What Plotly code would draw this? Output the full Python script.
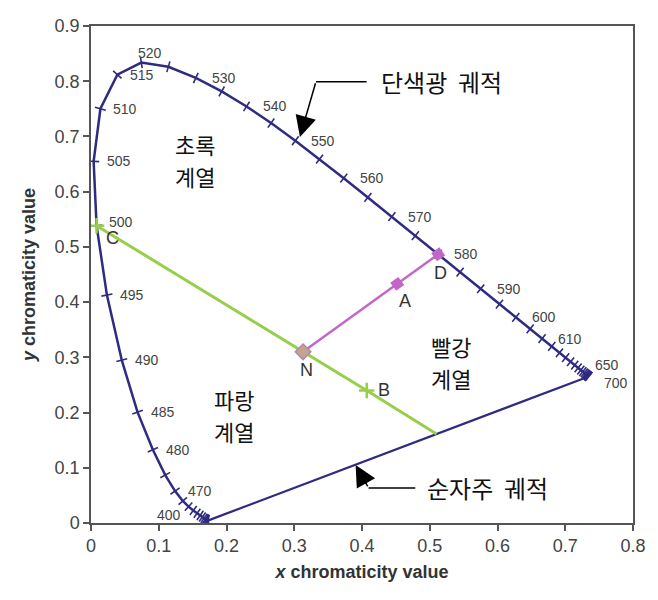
import math
import plotly.graph_objects as go

# CIE 1931 spectral locus (5 nm steps)
wavelengths = list(range(400, 705, 5))
locus_x = [0.1733, 0.1730, 0.1726, 0.1721, 0.1714, 0.1703, 0.1689, 0.1669, 0.1644, 0.1611,
           0.1566, 0.1510, 0.1440, 0.1355, 0.1241, 0.1096, 0.0913, 0.0687, 0.0454, 0.0235,
           0.0082, 0.0039, 0.0139, 0.0389, 0.0743, 0.1142, 0.1547, 0.1929, 0.2296, 0.2658,
           0.3016, 0.3373, 0.3731, 0.4087, 0.4441, 0.4788, 0.5125, 0.5448, 0.5752, 0.6029,
           0.6270, 0.6482, 0.6658, 0.6801, 0.6915, 0.7006, 0.7079, 0.7140, 0.7190, 0.7230,
           0.7260, 0.7283, 0.7300, 0.7311, 0.7320, 0.7327, 0.7334, 0.7340, 0.7344, 0.7346,
           0.7347]
locus_y = [0.0048, 0.0048, 0.0048, 0.0048, 0.0051, 0.0058, 0.0069, 0.0086, 0.0109, 0.0138,
           0.0177, 0.0227, 0.0297, 0.0399, 0.0578, 0.0868, 0.1327, 0.2007, 0.2950, 0.4127,
           0.5384, 0.6548, 0.7502, 0.8120, 0.8338, 0.8262, 0.8059, 0.7816, 0.7543, 0.7243,
           0.6923, 0.6589, 0.6245, 0.5896, 0.5547, 0.5202, 0.4866, 0.4544, 0.4242, 0.3965,
           0.3725, 0.3514, 0.3340, 0.3197, 0.3083, 0.2993, 0.2920, 0.2859, 0.2809, 0.2770,
           0.2740, 0.2717, 0.2700, 0.2689, 0.2680, 0.2673, 0.2666, 0.2660, 0.2656, 0.2654,
           0.2653]
labelled_wl = [400, 470, 480, 485, 490, 495, 500, 505, 510, 515, 520, 530, 540, 550,
               560, 570, 580, 590, 600, 610, 650, 700]

# Construction points
green_names = ["C", "N", "B", "E"]
green_x = [0.0082, 0.313, 0.407, 0.510]
green_y = [0.5384, 0.310, 0.240, 0.161]
magenta_names = ["N", "A", "D"]
magenta_x = [0.313, 0.452, 0.5125]
magenta_y = [0.310, 0.433, 0.4866]

region_line1 = ["초록", "파랑", "빨강"]
region_line2 = ["계열", "계열", "계열"]
region_x = [0.153, 0.211, 0.531]
region_y = [0.657, 0.196, 0.292]

# ---------------- layout constants ----------------
W, H = 658, 600
ML, MR, MT, MB = 91, 22, 26, 77
XR, YR = (0, 0.8), (0, 0.9)
px_x = (W - ML - MR) / (XR[1] - XR[0])
px_y = (H - MT - MB) / (YR[1] - YR[0])

NAVY = "#2e2b80"
GREEN = "#98cf4a"
MAGENTA = "#c266c8"
TXT = "#444444"
FONT = "Liberation Sans, Arial, sans-serif"
KFONT = "Noto Sans CJK KR"

# tick angles perpendicular to locus
angles = []
n = len(locus_x)
for i in range(n):
    a, b = max(i - 1, 0), min(i + 1, n - 1)
    tx = (locus_x[b] - locus_x[a]) * px_x
    ty = -(locus_y[b] - locus_y[a]) * px_y
    angles.append(math.degrees(math.atan2(ty, tx)))

fig = go.Figure()

# pure purple line
fig.add_trace(go.Scatter(x=[locus_x[0], locus_x[-1]], y=[locus_y[0], locus_y[-1]],
                         mode="lines", line=dict(color=NAVY, width=2.2), hoverinfo="skip"))
# spectral locus
fig.add_trace(go.Scatter(x=locus_x, y=locus_y, mode="lines+markers",
                         line=dict(color=NAVY, width=2.5),
                         marker=dict(symbol="line-ns", size=8, angle=angles,
                                     line=dict(color=NAVY, width=1.6)),
                         hoverinfo="skip"))
# green line C-N-B-E
fig.add_trace(go.Scatter(x=green_x, y=green_y, mode="lines",
                         line=dict(color=GREEN, width=3), hoverinfo="skip"))
fig.add_trace(go.Scatter(x=[green_x[0], green_x[2]], y=[green_y[0], green_y[2]], mode="markers",
                         marker=dict(symbol="cross-thin", size=11,
                                     line=dict(color=GREEN, width=2.5)), hoverinfo="skip"))
# magenta line N-A-D
fig.add_trace(go.Scatter(x=magenta_x, y=magenta_y, mode="lines",
                         line=dict(color=MAGENTA, width=2.5), hoverinfo="skip"))
fig.add_trace(go.Scatter(x=magenta_x[1:], y=magenta_y[1:], mode="markers",
                         marker=dict(symbol="square", size=10, angle=-36, color=MAGENTA),
                         hoverinfo="skip"))
fig.add_trace(go.Scatter(x=[magenta_x[0]], y=[magenta_y[0]], mode="markers",
                         marker=dict(symbol="diamond", size=12, color="#c4a48e",
                                     line=dict(color="#b487b4", width=1.5)),
                         hoverinfo="skip"))

annotations = []
# wavelength labels
label_offsets = {400: (-25, 5, "right"), 520: (9, 10, "center"), 650: (10, 7, "left"),
                 700: (13, -6, "left"), 500: (10, 4, "left")}
for wl in labelled_wl:
    i = wavelengths.index(wl)
    dx, dy, anc = label_offsets.get(wl, (11 if wl < 520 else 14, 0, "left"))
    annotations.append(dict(x=locus_x[i], y=locus_y[i], text=str(wl), showarrow=False,
                            xanchor=anc, yanchor="middle", xshift=dx, yshift=dy,
                            font=dict(family=FONT, size=14, color=TXT)))

# point labels
pt_labels = {"C": (green_x[0], green_y[0], 16, -12), "N": (green_x[1], green_y[1], 3, -18),
             "B": (green_x[2], green_y[2], 17, 0), "A": (magenta_x[1], magenta_y[1], 8, -17),
             "D": (magenta_x[2], magenta_y[2], 2, -19)}
for name, (px, py, dx, dy) in pt_labels.items():
    annotations.append(dict(x=px, y=py, text=name, showarrow=False, xshift=dx, yshift=dy,
                            xanchor="center", yanchor="middle",
                            font=dict(family=FONT, size=18, color="#333333")))

# region labels (two lines each)
for t1, t2, rx, ry in zip(region_line1, region_line2, region_x, region_y):
    for t, sh in ((t1, 16), (t2, -16)):
        annotations.append(dict(x=rx, y=ry, text=t, showarrow=False, yshift=sh,
                                xanchor="center", yanchor="middle",
                                font=dict(family=KFONT, size=22, color="#111111")))

# callouts
annotations.append(dict(x=0.3084, y=0.699, ax=0.332, ay=0.799, axref="x", ayref="y",
                        xref="x", yref="y", text="", showarrow=True, arrowhead=2,
                        arrowsize=2.8, arrowwidth=1.5, arrowcolor="#000000"))
annotations.append(dict(x=0.4244, y=0.799, text="단색광  궤적", showarrow=False,
                        xanchor="left", yanchor="middle",
                        font=dict(family=KFONT, size=24, color="#111111")))
annotations.append(dict(x=0.3906, y=0.105, ax=0.4097, ay=0.0634, axref="x", ayref="y",
                        xref="x", yref="y", text="", showarrow=True, arrowhead=2,
                        arrowsize=2.8, arrowwidth=1.5, arrowcolor="#000000"))
annotations.append(dict(x=0.4934, y=0.0634, text="순자주  궤적", showarrow=False,
                        xanchor="left", yanchor="middle",
                        font=dict(family=KFONT, size=24, color="#111111")))

shapes = [
    dict(type="line", xref="x", yref="y", x0=0.332, y0=0.799, x1=0.4068, y1=0.799,
         line=dict(color="#000000", width=1.5)),
    dict(type="line", xref="x", yref="y", x0=0.4097, y0=0.0634, x1=0.4787, y1=0.0634,
         line=dict(color="#000000", width=1.5)),
]

axis_common = dict(showline=True, linecolor="#555555", linewidth=1.5, mirror=True,
                   ticks="outside", ticklen=6, tickwidth=1.5, tickcolor="#555555",
                   showgrid=False, zeroline=False,
                   tickfont=dict(family=FONT, size=18, color=TXT))

fig.update_layout(
    width=W, height=H, margin=dict(l=ML, r=MR, t=MT, b=MB),
    paper_bgcolor="white", plot_bgcolor="white", showlegend=False,
    xaxis=dict(range=list(XR), dtick=0.1, tick0=0,
               title=dict(text="<i>x</i> chromaticity value", standoff=10,
                          font=dict(family=FONT, size=18, color="#333333", weight="bold")),
               **axis_common),
    yaxis=dict(range=list(YR), dtick=0.1, tick0=0,
               title=dict(text="<i>y</i> chromaticity value", standoff=14,
                          font=dict(family=FONT, size=18, color="#333333", weight="bold")),
               **axis_common),
    annotations=annotations, shapes=shapes,
)

fig.write_html("out.html")
